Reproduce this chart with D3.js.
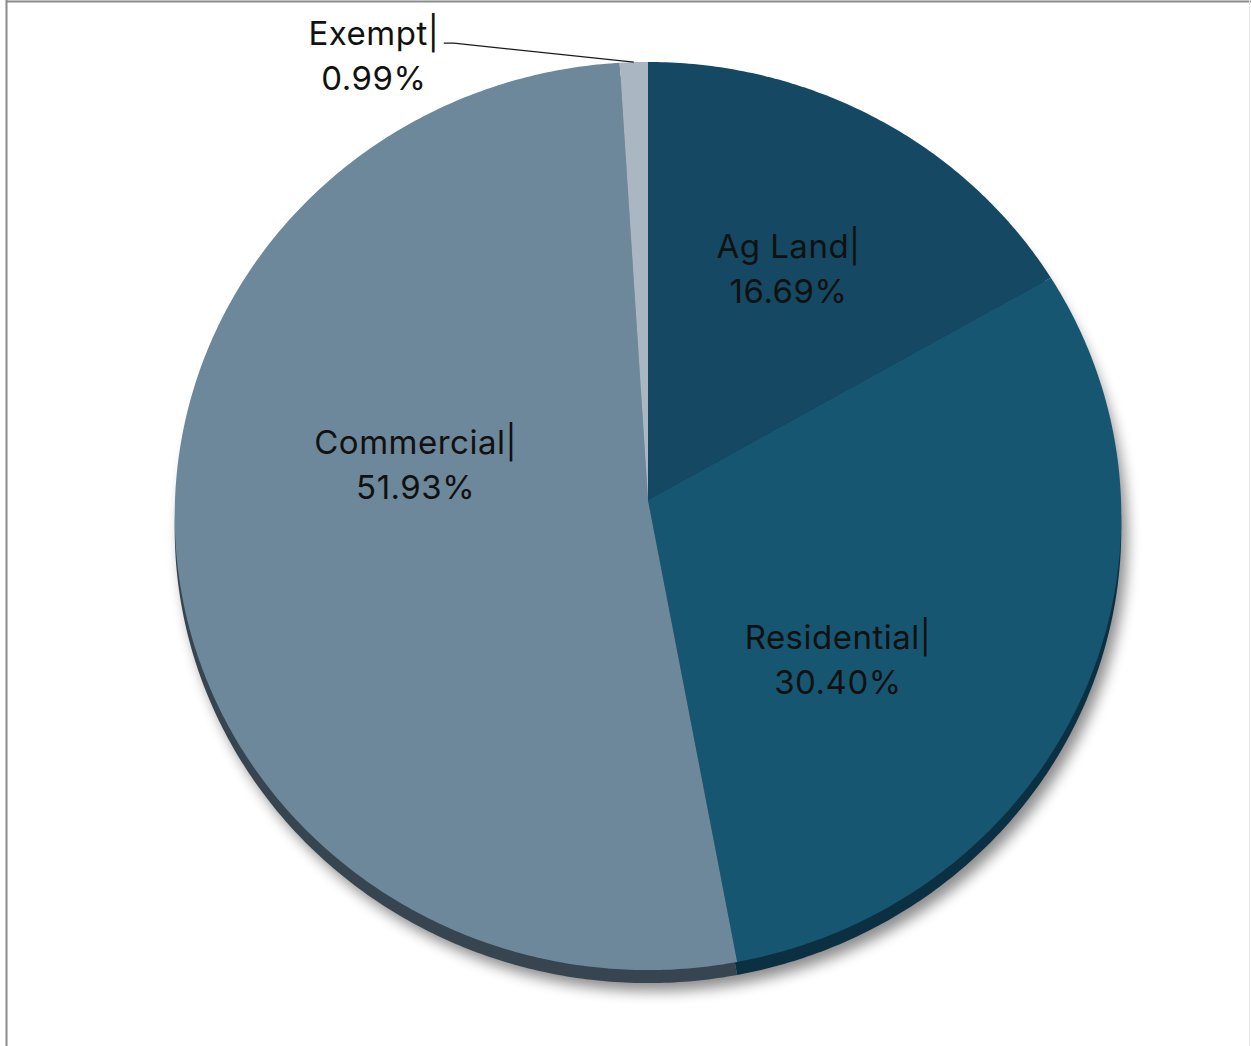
<!DOCTYPE html>
<html>
<head>
<meta charset="utf-8">
<script src="https://cdn.jsdelivr.net/npm/d3@7"></script>
<style>
  html, body { margin: 0; padding: 0; background: #ffffff; }
  svg { display: block; }
</style>
</head>
<body>
<svg id="chart" width="1251" height="1046"></svg>
<script>
// Share of value by property class
const categories = ["Ag Land", "Residential", "Commercial", "Exempt"];
const shares = [16.69, 30.40, 51.93, 0.99];
const labelTexts = ["16.69%", "30.40%", "51.93%", "0.99%"];

const faceColors = ["#154862", "#175671", "#6c889a", "#aab7c2"];
const sideColors = ["#0c2f42", "#0b3042", "#36454f", "#59646c"];

// Layout of the tilted disc
const W = 1251, H = 1046;
const cx = 648, cy = 500;
const RX = 473, RY = 453.5;
const tilt = 0.0353;      // perspective strength: near (lower) edge looks larger
const depth = 13;         // visible thickness of the disc
const labelR = 0.6;
// nudges for each label block relative to its slice point
const labelNudge = [[1, 0], [-70, 45], [50, -68], [-260, -6]];

const svg = d3.select("#chart");

// frame
svg.append("line").attr("x1", 6).attr("x2", W).attr("y1", 1.5).attr("y2", 1.5)
  .attr("stroke", "#8a8a8a").attr("stroke-width", 2);
svg.append("line").attr("x1", 6.5).attr("x2", 6.5).attr("y1", 0).attr("y2", H)
  .attr("stroke", "#8a8a8a").attr("stroke-width", 2);
svg.append("line").attr("x1", 1249.5).attr("x2", 1249.5).attr("y1", 0).attr("y2", H)
  .attr("stroke", "#e6e6e6").attr("stroke-width", 1);

// project a point given by angle (clockwise from top) and radius fraction
function proj(theta, r) {
  const u = r * Math.sin(theta);
  const v = -r * Math.cos(theta);
  const den = 1 - tilt * v;
  return [cx + RX * u / den, cy + RY * v / den];
}

const pie = d3.pie().sort(null).value(d => d);
const arcs = pie(shares);

const line = d3.line().curve(d3.curveLinear);

function slicePoints(a) {
  const pts = [proj(0, 0)];
  const n = Math.max(2, Math.ceil((a.endAngle - a.startAngle) / 0.01));
  for (let i = 0; i <= n; i++) {
    const t = a.startAngle + (a.endAngle - a.startAngle) * i / n;
    pts.push(proj(t, 1));
  }
  return pts;
}

function discPoints() {
  const pts = [];
  for (let i = 0; i <= 720; i++) pts.push(proj(2 * Math.PI * i / 720, 1));
  return pts;
}

const defs = svg.append("defs");
defs.append("filter").attr("id", "shadowBlur")
  .attr("x", "-10%").attr("y", "-10%").attr("width", "120%").attr("height", "120%")
  .append("feGaussianBlur").attr("stdDeviation", 7);

// soft drop shadow under the disc
svg.append("path")
  .attr("d", line(discPoints()) + "Z")
  .attr("transform", `translate(6,${depth + 8})`)
  .attr("fill", "#000")
  .attr("opacity", 0.45)
  .attr("filter", "url(#shadowBlur)");

// disc edge
const sideG = svg.append("g").attr("transform", `translate(0,${depth})`);
sideG.selectAll("path").data(arcs).join("path")
  .attr("d", d => line(slicePoints(d)) + "Z")
  .attr("fill", (d, i) => sideColors[i]);

// top faces
svg.append("g").selectAll("path").data(arcs).join("path")
  .attr("d", d => line(slicePoints(d)) + "Z")
  .attr("fill", (d, i) => faceColors[i]);

// labels
const font = "Inter, 'Noto Sans', sans-serif";
const fs = 33;
const labelG = svg.append("g");
arcs.forEach((a, i) => {
  const mid = (a.startAngle + a.endAngle) / 2;
  const p = i === 3 ? proj(mid, 1) : proj(mid, labelR);
  const bx = p[0] + labelNudge[i][0];
  const by = p[1] + labelNudge[i][1];
  const t = labelG.append("text")
    .attr("text-anchor", "middle")
    .attr("font-family", font)
    .attr("font-size", fs)
    .attr("letter-spacing", 0.5)
    .attr("fill", "#111111");
  t.append("tspan").attr("x", bx).attr("y", by - 11).text(categories[i] + "|");
  t.append("tspan").attr("x", bx).attr("y", by + 34).text(labelTexts[i]);

  if (i === 3) {
    // leader line from the label to the thin slice
    const end = proj(mid, 1);
    const sx = bx + 70, sy = by - 13;
    labelG.append("path")
      .attr("d", line([[sx, sy], [sx + 10, sy], [end[0], end[1]]]))
      .attr("fill", "none")
      .attr("stroke", "#1a1a1a")
      .attr("stroke-width", 1.2);
  }
});
</script>
</body>
</html>
